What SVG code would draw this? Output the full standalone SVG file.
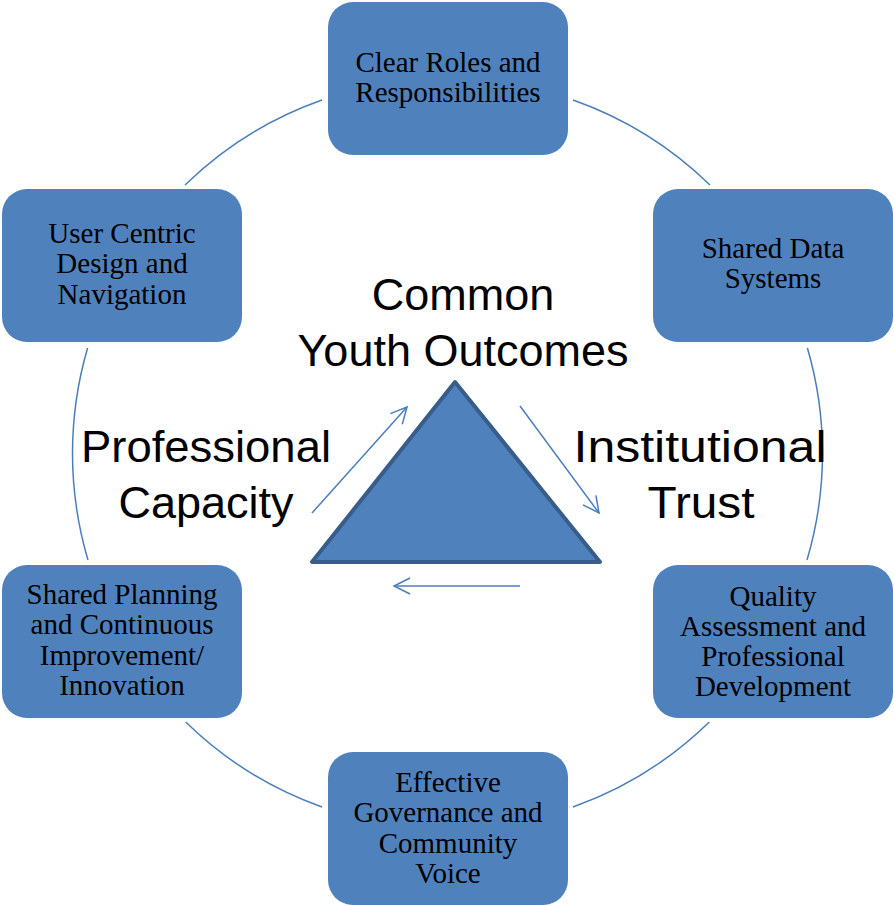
<svg xmlns="http://www.w3.org/2000/svg" width="894" height="906" viewBox="0 0 894 906">
<style>
.box{fill:#4F81BD;}
.bt{font-family:"Liberation Serif","Times New Roman",serif;font-size:29px;fill:#000;text-anchor:middle;}
.ct{font-family:"Liberation Sans",Arial,sans-serif;font-size:45px;fill:#000;text-anchor:middle;}
.arc{fill:none;stroke:#4A7EBB;stroke-width:1.5;}
.arr{fill:none;stroke:#4A7EBB;stroke-width:1.5;}
</style>
<defs>
<marker id="open" viewBox="0 0 20 20" refX="18" refY="10" markerWidth="20" markerHeight="20" markerUnits="userSpaceOnUse" orient="auto">
<path d="M2,2 L18,10 L2,18" fill="none" stroke="#4A7EBB" stroke-width="1.5"/>
</marker>
</defs>
<rect width="894" height="906" fill="#fff"/>
<g id="connectors">
<path class="arc" d="M322,100 A375,375 0 0 0 185,185"/>
<path class="arc" d="M573,100 A375,375 0 0 1 710,185"/>
<path class="arc" d="M87.6,348 A375,375 0 0 0 88,560"/>
<path class="arc" d="M807.4,348 A375,375 0 0 1 807,560"/>
<path class="arc" d="M185.7,722 A375,375 0 0 0 322,807"/>
<path class="arc" d="M709.3,722 A375,375 0 0 1 573,807"/>
<line class="arr" x1="312" y1="513" x2="407" y2="407" marker-end="url(#open)"/>
<line class="arr" x1="520" y1="406" x2="599" y2="513" marker-end="url(#open)"/>
<line class="arr" x1="520" y1="586" x2="394" y2="586" marker-end="url(#open)"/>
</g>
<g id="triangle">
<polygon points="455,382 312,562 600,562" fill="#4F81BD" stroke="#385D8A" stroke-width="4" stroke-linejoin="round"/>
</g>
<g id="center-labels">
<text class="ct" x="463" y="310">Common</text>
<text class="ct" x="463" y="366">Youth Outcomes</text>
<text class="ct" x="206" y="462" textLength="250" lengthAdjust="spacingAndGlyphs">Professional</text>
<text class="ct" x="206" y="518">Capacity</text>
<text class="ct" x="700" y="462" textLength="253" lengthAdjust="spacingAndGlyphs">Institutional</text>
<text class="ct" x="701" y="518" textLength="107" lengthAdjust="spacingAndGlyphs">Trust</text>
</g>
<g id="node-roles">
<rect class="box" x="328" y="2" width="240" height="153" rx="25"/>
<text class="bt" x="448" y="72">Clear Roles and</text>
<text class="bt" x="448" y="102">Responsibilities</text>
</g>
<g id="node-data">
<rect class="box" x="653" y="189" width="240" height="153" rx="25"/>
<text class="bt" x="773" y="258">Shared Data</text>
<text class="bt" x="773" y="288">Systems</text>
</g>
<g id="node-quality">
<rect class="box" x="653" y="565" width="240" height="153" rx="25"/>
<text class="bt" x="773" y="606">Quality</text>
<text class="bt" x="773" y="636">Assessment and</text>
<text class="bt" x="773" y="666">Professional</text>
<text class="bt" x="773" y="696">Development</text>
</g>
<g id="node-governance">
<rect class="box" x="328" y="752" width="240" height="153" rx="25"/>
<text class="bt" x="448" y="792">Effective</text>
<text class="bt" x="448" y="822">Governance and</text>
<text class="bt" x="448" y="853">Community</text>
<text class="bt" x="448" y="883">Voice</text>
</g>
<g id="node-planning">
<rect class="box" x="2" y="565" width="240" height="153" rx="25"/>
<text class="bt" x="122" y="604">Shared Planning</text>
<text class="bt" x="122" y="634">and Continuous</text>
<text class="bt" x="122" y="665">Improvement/</text>
<text class="bt" x="122" y="695">Innovation</text>
</g>
<g id="node-user">
<rect class="box" x="2" y="189" width="240" height="153" rx="25"/>
<text class="bt" x="122" y="243">User Centric</text>
<text class="bt" x="122" y="273">Design and</text>
<text class="bt" x="122" y="304">Navigation</text>
</g>
</svg>
